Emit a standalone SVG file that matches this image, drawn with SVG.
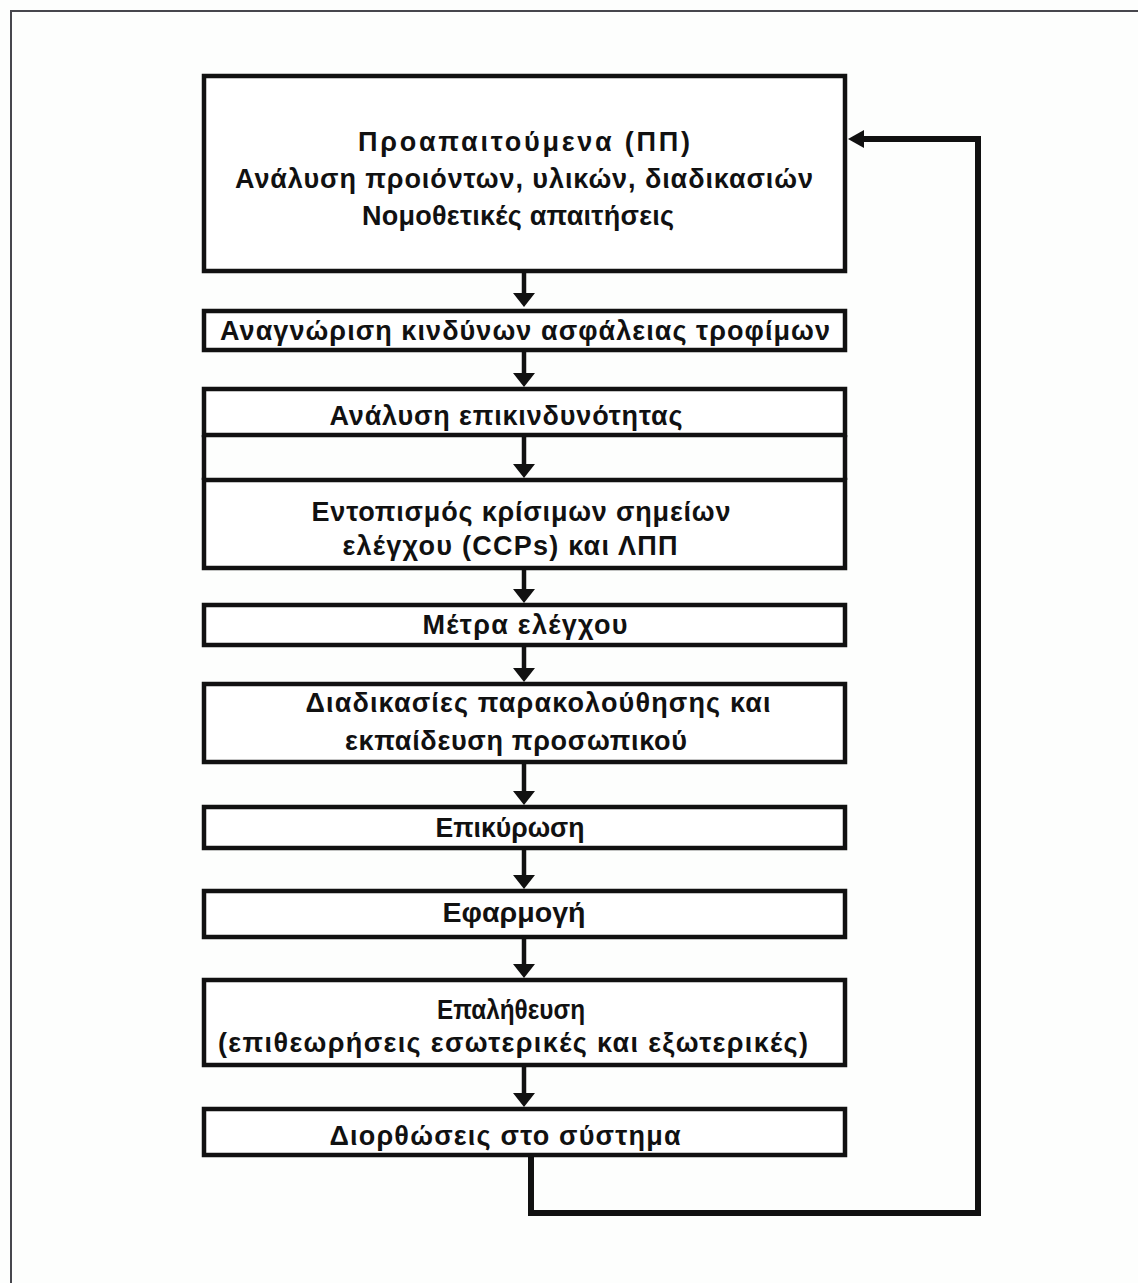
<svg xmlns="http://www.w3.org/2000/svg" width="1138" height="1283" viewBox="0 0 1138 1283">
  <style>
    .box { fill: #ffffff; stroke: #111111; stroke-width: 4.5; }
    .lbl { font-family: "Liberation Sans", Arial, sans-serif; font-weight: bold; font-size: 27px; fill: #111111; text-anchor: middle; }
    .flow { fill: none; stroke: #111111; stroke-width: 4.5; }
    .loop { fill: none; stroke: #111111; stroke-width: 6; }
    .head { fill: #111111; }
  </style>

  <rect width="1138" height="1283" fill="#fdfefd"/>
  <!-- page frame -->
  <path d="M11,1283 V11 H1138" fill="none" stroke="#47474d" stroke-width="2"/>

  <!-- connectors: shafts, heads and the feedback loop -->
  <g id="connectors">
    <line class="flow" x1="524" y1="273" x2="524" y2="295"/>
    <line class="flow" x1="524" y1="352" x2="524" y2="375"/>
    <line class="flow" x1="524" y1="437" x2="524" y2="466"/>
    <line class="flow" x1="524" y1="570" x2="524" y2="591"/>
    <line class="flow" x1="524" y1="647" x2="524" y2="670"/>
    <line class="flow" x1="524" y1="764" x2="524" y2="793"/>
    <line class="flow" x1="524" y1="850" x2="524" y2="877"/>
    <line class="flow" x1="524" y1="939" x2="524" y2="966"/>
    <line class="flow" x1="524" y1="1067" x2="524" y2="1095"/>
    <path class="head" d="M513,293 H535 L524,307 Z"/>
    <path class="head" d="M513,373 H535 L524,387 Z"/>
    <path class="head" d="M513,464 H535 L524,478 Z"/>
    <path class="head" d="M513,589 H535 L524,603 Z"/>
    <path class="head" d="M513,668 H535 L524,682 Z"/>
    <path class="head" d="M513,791 H535 L524,805 Z"/>
    <path class="head" d="M513,875 H535 L524,889 Z"/>
    <path class="head" d="M513,964 H535 L524,978 Z"/>
    <path class="head" d="M513,1093 H535 L524,1107 Z"/>
    <path class="loop" d="M531,1157 V1213 H978 V139 H862"/>
    <path class="head" d="M848,139 L864,130 L864,148 Z"/>
  </g>

  <g id="n1">
    <rect class="box" x="204" y="76" width="641" height="195"/>
    <text class="lbl" x="524" y="151" textLength="332" lengthAdjust="spacing">Προαπαιτούμενα (ΠΠ)</text>
    <text class="lbl" x="524" y="188" textLength="578" lengthAdjust="spacing">Ανάλυση προιόντων, υλικών, διαδικασιών</text>
    <text class="lbl" x="518" y="225" textLength="312" lengthAdjust="spacing">Νομοθετικές απαιτήσεις</text>
  </g>

  <g id="n2">
    <rect class="box" x="204" y="311" width="641" height="39"/>
    <text class="lbl" x="525" y="340" textLength="610" lengthAdjust="spacing">Αναγνώριση κινδύνων ασφάλειας τροφίμων</text>
  </g>

  <g id="n3">
    <rect class="box" x="204" y="389" width="641" height="46"/>
    <text class="lbl" x="506" y="425" textLength="353" lengthAdjust="spacing">Ανάλυση επικινδυνότητας</text>
  </g>

  <!-- side rails joining n3 and n4 -->
  <g id="n3-n4-rails">
    <line class="flow" x1="204" y1="435" x2="204" y2="480"/>
    <line class="flow" x1="845" y1="435" x2="845" y2="480"/>
  </g>

  <g id="n4">
    <rect class="box" x="204" y="480" width="641" height="88"/>
    <text class="lbl" x="521" y="521" textLength="419" lengthAdjust="spacing">Εντοπισμός κρίσιμων σημείων</text>
    <text class="lbl" x="510" y="555" textLength="335" lengthAdjust="spacing">ελέγχου (CCPs) και ΛΠΠ</text>
  </g>

  <g id="n5">
    <rect class="box" x="204" y="605" width="641" height="40"/>
    <text class="lbl" x="525" y="634" textLength="205" lengthAdjust="spacing">Μέτρα ελέγχου</text>
  </g>

  <g id="n6">
    <rect class="box" x="204" y="684" width="641" height="78"/>
    <text class="lbl" x="538" y="712" textLength="465" lengthAdjust="spacing">Διαδικασίες παρακολούθησης και</text>
    <text class="lbl" x="516" y="750" textLength="342" lengthAdjust="spacing">εκπαίδευση προσωπικού</text>
  </g>

  <g id="n7">
    <rect class="box" x="204" y="807" width="641" height="41"/>
    <text class="lbl" x="510" y="837" textLength="149" lengthAdjust="spacingAndGlyphs">Επικύρωση</text>
  </g>

  <g id="n8">
    <rect class="box" x="204" y="891" width="641" height="46"/>
    <text class="lbl" x="514" y="922" textLength="143" lengthAdjust="spacingAndGlyphs">Εφαρμογή</text>
  </g>

  <g id="n9">
    <rect class="box" x="204" y="980" width="641" height="85"/>
    <text class="lbl" x="511" y="1019" textLength="148" lengthAdjust="spacingAndGlyphs">Επαλήθευση</text>
    <text class="lbl" x="513" y="1052" textLength="590" lengthAdjust="spacing">(επιθεωρήσεις εσωτερικές και εξωτερικές)</text>
  </g>

  <g id="n10">
    <rect class="box" x="204" y="1109" width="641" height="46"/>
    <text class="lbl" x="505" y="1145" textLength="351" lengthAdjust="spacing">Διορθώσεις στο σύστημα</text>
  </g>
</svg>
